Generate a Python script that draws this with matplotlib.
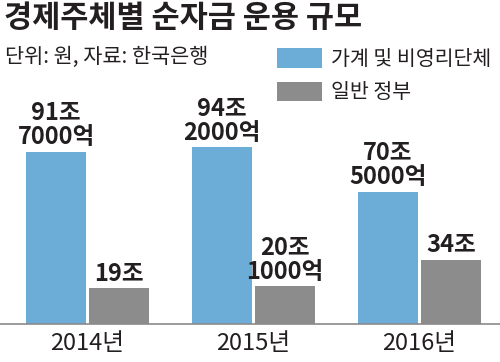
import numpy as np
import matplotlib
matplotlib.use('Agg')
import matplotlib.pyplot as plt

plt.rcParams['font.family'] = ['Noto Sans CJK KR', 'DejaVu Sans']
narrow = ['Liberation Sans Narrow', 'Noto Sans CJK KR', 'DejaVu Sans']

# 데이터 (단위: 조 원)
years = ['2014년', '2015년', '2016년']
household = [91.7, 94.2, 70.5]
government = [19.0, 20.1, 34.0]
household_labels = ['91조\n7000억', '94조\n2000억', '70조\n5000억']
government_labels = ['19조', '20조\n1000억', '34조']
series_names = ['가계 및 비영리단체', '일반 정부']

blue = '#6badd6'
gray = '#8c8c8c'
text_color = '#231f20'

fig = plt.figure(figsize=(5, 3.62), dpi=100)
ax = fig.add_axes([0, 1 - 324 / 362, 1, (324 - 40) / 362])

x = np.arange(len(years))
w = 60 / 166
off = 31.5 / 166
b1 = ax.bar(x - off, household, width=w, color=blue, label=series_names[0])
b2 = ax.bar(x + off, government, width=w, color=gray, label=series_names[1])

# 막대 위 값 표시
for bars, labels in [(b1, household_labels), (b2, government_labels)]:
    for bar, lab in zip(bars, labels):
        ax.annotate(lab, xy=(bar.get_x() + bar.get_width() / 2, bar.get_height()),
                    xytext=(0, 2), textcoords='offset points',
                    ha='center', va='bottom', fontsize=17, fontweight='bold',
                    family=narrow, color=text_color, linespacing=1.0)

ax.set_xlim(-87.5 / 166, (500 - 87.5) / 166)
ax.set_ylim(0, 284 / 1.876)
ax.set_xticks(x)
ax.set_xticklabels(years, fontsize=17, color=text_color, family=narrow)
ax.tick_params(axis='x', length=0, pad=6)
ax.set_yticks([])
for s in ['top', 'left', 'right']:
    ax.spines[s].set_visible(False)
ax.spines['bottom'].set_color('#8a8a8a')
ax.spines['bottom'].set_linewidth(1.2)

fig.text(4 / 500, 1 - 2 / 362, '경제주체별 순자금 운용 규모', ha='left', va='top',
         fontsize=22, fontweight='bold', color=text_color)
fig.text(5 / 500, 1 - 46 / 362, '단위: 원, 자료: 한국은행', ha='left', va='top',
         fontsize=15, color=text_color)

leg = ax.legend(loc='upper left', bbox_to_anchor=(277 / 500, 1 - 48 / 362),
                bbox_transform=fig.transFigure, frameon=False, fontsize=14.8,
                handlelength=2.2, handleheight=1.05, labelspacing=0.55,
                handletextpad=0.45, borderpad=0, borderaxespad=0)
for t in leg.get_texts():
    t.set_color(text_color)

fig.savefig('out.png', dpi=100)
